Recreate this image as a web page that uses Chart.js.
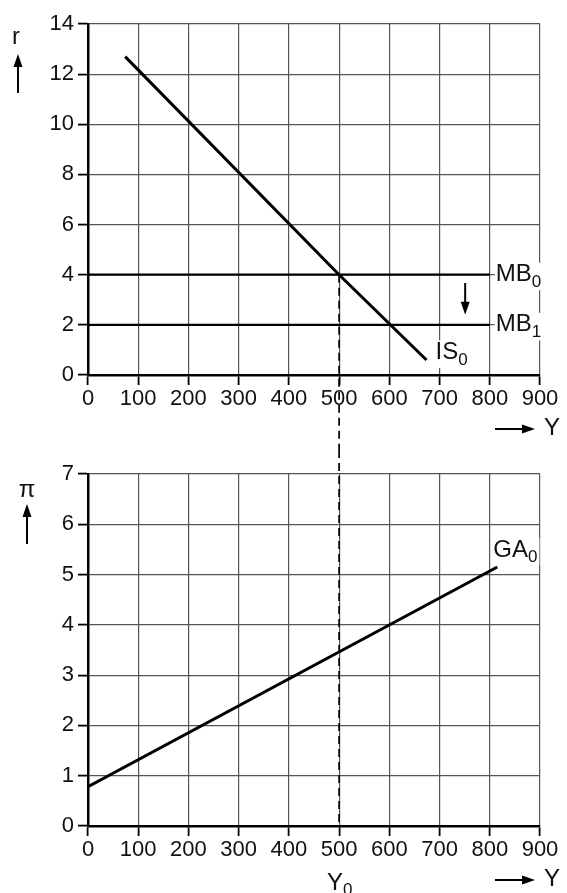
<!DOCTYPE html>
<html>
<head>
<meta charset="utf-8">
<script src="https://cdn.jsdelivr.net/npm/chart.js@4.4.1/dist/chart.umd.min.js"></script>
<style>
  html, body { margin: 0; padding: 0; background: #fff; }
  #wrap { position: relative; width: 567px; height: 893px; }
  canvas { position: absolute; left: 0; }
  #isChart { top: 0; }
  #gaChart { top: 450px; }
</style>
</head>
<body>
<div id="wrap">
  <canvas id="isChart" width="567" height="450" style="width:567px;height:450px"></canvas>
  <canvas id="gaChart" width="567" height="443" style="width:567px;height:443px"></canvas>
</div>
<script>
// values
const xTicks = [0, 100, 200, 300, 400, 500, 600, 700, 800, 900];
const rTicks = [0, 2, 4, 6, 8, 10, 12, 14];
const piTicks = [0, 1, 2, 3, 4, 5, 6, 7];

const isY = [74, 500, 674];
const isR = [12.7, 4, 0.6];
const mbY = [0, 800];
const mb0R = [4, 4];
const mb1R = [2, 2];
const gaY = [0, 815];
const gaPi = [0.78, 5.15];

const Y0 = 500;
const R0 = 4;

const FONT = "'Liberation Sans', Arial, sans-serif";

function pts(xs, ys) {
  return xs.map((x, i) => ({ x, y: ys[i] }));
}

function lineSet(label, data, width) {
  return {
    label,
    data,
    borderColor: "#000",
    borderWidth: width,
    pointRadius: 0,
    tension: 0,
    fill: false,
  };
}

function axes(yTicks, xHeight) {
  const grid = { color: "#555", lineWidth: 1.2, tickLength: 10, tickColor: "#000", tickWidth: 1.8 };
  return {
    x: {
      type: "linear",
      min: 0,
      max: 900,
      afterBuildTicks: (s) => { s.ticks = xTicks.map((v) => ({ value: v })); },
      ticks: { color: "#111", font: { family: FONT, size: 22 }, padding: 1, maxRotation: 0, autoSkip: false },
      grid,
      border: { color: "#000", width: 2.5 },
      afterFit: (s) => { s.height = xHeight; },
    },
    y: {
      min: yTicks[0],
      max: yTicks[yTicks.length - 1],
      afterBuildTicks: (s) => { s.ticks = yTicks.map((v) => ({ value: v })); },
      ticks: { color: "#111", font: { family: FONT, size: 22 }, padding: 4, autoSkip: false },
      grid,
      border: { color: "#000", width: 2.5 },
      afterFit: (s) => { s.width = 88; },
    },
  };
}

function label(ctx, main, sub, x, y, size) {
  ctx.save();
  ctx.font = size + "px " + FONT;
  const w1 = ctx.measureText(main).width;
  ctx.font = Math.round(size * 0.7) + "px " + FONT;
  const w2 = sub ? ctx.measureText(sub).width : 0;
  ctx.fillStyle = "#fff";
  ctx.fillRect(x - 1, y - size * 0.5, w1 + w2 + 3, size * 1.15);
  ctx.fillStyle = "#111";
  ctx.textBaseline = "middle";
  ctx.textAlign = "left";
  ctx.font = size + "px " + FONT;
  ctx.fillText(main, x, y);
  if (sub) {
    ctx.font = Math.round(size * 0.7) + "px " + FONT;
    ctx.fillText(sub, x + w1, y + size * 0.32);
  }
  ctx.restore();
}

function arrow(ctx, x1, y1, x2, y2) {
  const a = Math.atan2(y2 - y1, x2 - x1);
  const len = 13, half = 4.5;
  ctx.save();
  ctx.strokeStyle = "#000";
  ctx.fillStyle = "#000";
  ctx.lineWidth = 2;
  ctx.beginPath();
  ctx.moveTo(x1, y1);
  ctx.lineTo(x2 - len * Math.cos(a) * 0.8, y2 - len * Math.sin(a) * 0.8);
  ctx.stroke();
  ctx.beginPath();
  ctx.moveTo(x2, y2);
  ctx.lineTo(x2 - len * Math.cos(a) + half * Math.sin(a), y2 - len * Math.sin(a) - half * Math.cos(a));
  ctx.lineTo(x2 - len * Math.cos(a) - half * Math.sin(a), y2 - len * Math.sin(a) + half * Math.cos(a));
  ctx.closePath();
  ctx.fill();
  ctx.restore();
}

function dashed(ctx, x, yA, yB) {
  ctx.save();
  ctx.strokeStyle = "#000";
  ctx.lineWidth = 1.7;
  ctx.setLineDash([8, 5]);
  ctx.beginPath();
  ctx.moveTo(x, yA);
  ctx.lineTo(x, yB);
  ctx.stroke();
  ctx.restore();
}

function text(ctx, s, x, y, size) {
  ctx.save();
  ctx.font = size + "px " + FONT;
  ctx.fillStyle = "#111";
  ctx.textAlign = "center";
  ctx.textBaseline = "middle";
  ctx.fillText(s, x, y);
  ctx.restore();
}

function axisArrowY(ctx, area, yPos) {
  arrow(ctx, area.right - 45, yPos, area.right - 5, yPos);
  text(ctx, "Y", area.right + 12, yPos - 1, 24);
}

const isNotes = {
  id: "isNotes",
  afterDatasetsDraw(chart) {
    const { ctx, chartArea: area, scales: { x, y } } = chart;
    dashed(ctx, x.getPixelForValue(Y0), y.getPixelForValue(R0), chart.height);
    label(ctx, "MB", "0", x.getPixelForValue(812), y.getPixelForValue(mb0R[1]), 24);
    label(ctx, "MB", "1", x.getPixelForValue(812), y.getPixelForValue(mb1R[1]), 24);
    label(ctx, "IS", "0", x.getPixelForValue(692), y.getPixelForValue(0.9), 24);
    arrow(ctx, x.getPixelForValue(751), y.getPixelForValue(3.67), x.getPixelForValue(751), y.getPixelForValue(2.4));
    axisArrowY(ctx, area, area.bottom + 54);
    text(ctx, "r", 16, 37, 24);
    arrow(ctx, 18, 93, 18, 54);
  },
};

const gaNotes = {
  id: "gaNotes",
  afterDatasetsDraw(chart) {
    const { ctx, chartArea: area, scales: { x, y } } = chart;
    dashed(ctx, x.getPixelForValue(Y0), 0, y.getPixelForValue(0));
    label(ctx, "GA", "0", x.getPixelForValue(807), y.getPixelForValue(5.49), 24);
    axisArrowY(ctx, area, area.bottom + 54);
    text(ctx, "π", 27, 40, 24);
    arrow(ctx, 27, 94, 27, 54);
    label(ctx, "Y", "0", x.getPixelForValue(Y0) - 12, area.bottom + 57, 24);
  },
};

new Chart(document.getElementById("isChart"), {
  type: "line",
  data: {
    datasets: [
      lineSet("IS0", pts(isY, isR), 3),
      lineSet("MB0", pts(mbY, mb0R), 2.2),
      lineSet("MB1", pts(mbY, mb1R), 2.2),
    ],
  },
  options: {
    responsive: false,
    animation: false,
    layout: { padding: { top: 24, right: 27, left: 0, bottom: 0 } },
    plugins: { legend: { display: false }, tooltip: { enabled: false } },
    scales: axes(rTicks, 75),
  },
  plugins: [isNotes],
});

new Chart(document.getElementById("gaChart"), {
  type: "line",
  data: {
    datasets: [lineSet("GA0", pts(gaY, gaPi), 3)],
  },
  options: {
    responsive: false,
    animation: false,
    layout: { padding: { top: 24, right: 27, left: 0, bottom: 0 } },
    plugins: { legend: { display: false }, tooltip: { enabled: false } },
    scales: axes(piTicks, 67),
  },
  plugins: [gaNotes],
});
</script>
</body>
</html>
